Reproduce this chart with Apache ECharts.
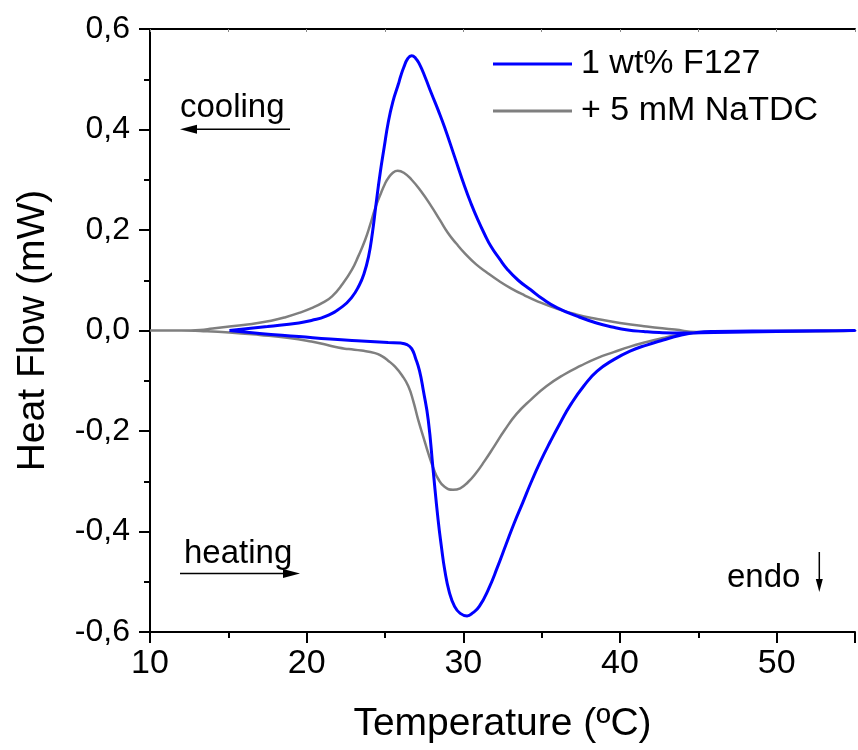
<!DOCTYPE html>
<html>
<head>
<meta charset="utf-8">
<script src="https://cdn.jsdelivr.net/npm/echarts@6/dist/echarts.min.js"></script>
<style>html,body{margin:0;padding:0;background:#fff;}#c{width:858px;height:750px;}</style>
</head>
<body>
<div id="c"></div>
<script>
// ---- data (Temperature °C, Heat Flow mW) ----
var seriesNames = ['1 wt% F127', '+ 5 mM NaTDC'];
var xTicks = [10, 20, 30, 40, 50];
var yTicks = [-0.6, -0.4, -0.2, 0.0, 0.2, 0.4, 0.6];

// 1 wt% F127 — heating branch (increasing T)
var f127HeatT  = [15.07, 17, 19.5, 21.5, 23.5, 25.2, 26.0, 26.4, 26.7, 26.95, 27.2, 27.45, 27.76, 28.07, 28.39, 28.6, 28.81, 29.1, 29.44, 29.8, 30.24, 30.6, 31.02, 31.6, 32.19, 32.7, 33.25, 33.8, 34.3, 34.9, 35.57, 36.2, 36.84, 37.7, 38.54, 39.6, 40.64, 41.7, 42.76, 43.8, 44.9, 46, 50, 55];
var f127HeatHF = [0, -0.006, -0.012, -0.017, -0.021, -0.024, -0.025, -0.028, -0.036, -0.055, -0.08, -0.12, -0.178, -0.277, -0.377, -0.43, -0.476, -0.52, -0.549, -0.563, -0.568, -0.562, -0.549, -0.515, -0.470, -0.428, -0.383, -0.342, -0.304, -0.262, -0.220, -0.183, -0.148, -0.110, -0.081, -0.058, -0.041, -0.029, -0.019, -0.01, -0.004, -0.002, -0.001, 0.0];
// 1 wt% F127 — cooling branch (decreasing T)
var f127CoolT  = [55, 50, 46, 44, 42.5, 41.5, 40.5, 39.5, 38.5, 37.3, 36.0, 35.1, 34.3, 33.5, 32.83, 32.3, 31.77, 31.35, 30.93, 30.5, 30.08, 29.45, 28.81, 28.4, 27.96, 27.55, 27.2, 26.95, 26.7, 26.45, 26.2, 26.0, 25.85, 25.5, 25.2, 24.95, 24.69, 24.41, 24.2, 23.95, 23.65, 23.32, 22.9, 22.3, 21.2, 20.3, 19.5, 17.5, 15.07];
var f127CoolHF = [0.001, -0.002, -0.004, -0.005, -0.004, -0.002, 0.001, 0.007, 0.015, 0.028, 0.045, 0.062, 0.081, 0.1, 0.121, 0.143, 0.167, 0.192, 0.22, 0.252, 0.287, 0.345, 0.404, 0.438, 0.472, 0.505, 0.53, 0.542, 0.547, 0.541, 0.524, 0.506, 0.49, 0.455, 0.413, 0.365, 0.313, 0.247, 0.195, 0.147, 0.112, 0.088, 0.067, 0.048, 0.028, 0.02, 0.015, 0.008, 0];

// + 5 mM NaTDC — heating branch
var natdcHeatT  = [10, 12, 13.2, 15.07, 17, 18.88, 20.3, 21.2, 22, 22.67, 23.5, 24.37, 24.8, 25.2, 25.64, 26.1, 26.49, 26.8, 27.12, 27.45, 27.76, 28.1, 28.39, 28.8, 29.34, 29.8, 30.29, 30.8, 31.35, 32.0, 32.62, 33.4, 34.3, 35.3, 36.41, 37.5, 38.54, 39.6, 40.64, 41.7, 42.76, 43.5, 44.3, 46, 50, 55];
var natdcHeatHF = [0, 0, -0.001, -0.004, -0.009, -0.015, -0.022, -0.028, -0.034, -0.037, -0.04, -0.045, -0.051, -0.06, -0.072, -0.09, -0.111, -0.14, -0.178, -0.212, -0.244, -0.275, -0.295, -0.311, -0.317, -0.314, -0.302, -0.284, -0.260, -0.229, -0.199, -0.166, -0.138, -0.111, -0.088, -0.070, -0.055, -0.043, -0.032, -0.023, -0.015, -0.01, -0.006, -0.003, -0.002, 0.0];
// + 5 mM NaTDC — cooling branch
var natdcCoolT  = [55, 50, 46, 44.9, 43.5, 41.7, 40, 38.54, 37.2, 36, 34.73, 33.9, 33.04, 32.3, 31.56, 30.8, 30.08, 29.55, 29.02, 28.5, 27.96, 27.3, 26.7, 26.2, 25.81, 25.5, 25.2, 25.0, 24.7, 24.37, 24.05, 23.73, 23.3, 22.89, 22.3, 21.62, 21.0, 20.35, 19.51, 18.6, 17.8, 16.5, 15.07, 14, 13.2, 12];
var natdcCoolHF = [0.001, -0.001, -0.003, -0.003, 0.002, 0.008, 0.015, 0.023, 0.032, 0.043, 0.058, 0.07, 0.084, 0.098, 0.114, 0.132, 0.154, 0.173, 0.194, 0.22, 0.247, 0.277, 0.300, 0.314, 0.318, 0.314, 0.303, 0.292, 0.27, 0.243, 0.21, 0.18, 0.148, 0.121, 0.093, 0.068, 0.055, 0.045, 0.035, 0.026, 0.02, 0.013, 0.008, 0.004, 0.001, 0];

function pairs(t, v) { return t.map(function (x, i) { return [x, v[i]]; }); }
var f127Loop = pairs(f127HeatT, f127HeatHF).concat(pairs(f127CoolT, f127CoolHF));
var natdcLoop = pairs(natdcHeatT, natdcHeatHF).concat(pairs(natdcCoolT, natdcCoolHF));

var FONT = 'Liberation Sans, Arial, sans-serif';
var chart = echarts.init(document.getElementById('c'), null, {renderer: 'canvas'});

function arrowGraphic(x1, y1, x2, y2, headLen, headHalf) {
  var dx = x2 - x1, dy = y2 - y1, L = Math.sqrt(dx*dx + dy*dy);
  var ux = dx / L, uy = dy / L;
  var bx = x2 - ux * headLen, by = y2 - uy * headLen;
  return [
    {type: 'line', shape: {x1: x1, y1: y1, x2: bx, y2: by}, style: {stroke: '#000', lineWidth: 1.5}, z: 10},
    {type: 'polygon', shape: {points: [[x2, y2], [bx - uy * headHalf, by + ux * headHalf], [bx + uy * headHalf, by - ux * headHalf]]}, style: {fill: '#000'}, z: 10}
  ];
}

var graphics = [
  {type: 'text', left: 180, top: 91, style: {text: 'cooling', font: '33px ' + FONT, fill: '#000'}, z: 10},
  {type: 'text', left: 184, top: 537, style: {text: 'heating', font: '33px ' + FONT, fill: '#000'}, z: 10},
  {type: 'text', left: 727, top: 561, style: {text: 'endo', font: '33px ' + FONT, fill: '#000'}, z: 10}
].concat(arrowGraphic(290, 129.3, 180, 129.3, 17, 4.5))
 .concat(arrowGraphic(180, 573.5, 300, 573.5, 17, 4.5))
 .concat(arrowGraphic(819.3, 552, 819.3, 592, 13, 3.5));

var option = {
  animation: false,
  backgroundColor: '#fff',
  grid: {left: 150, right: 0, top: 29, bottom: 118, containLabel: false},
  legend: {
    orient: 'vertical', left: 488, top: 42,
    icon: 'rect', itemWidth: 79, itemHeight: 3, itemGap: 13,
    textStyle: {fontFamily: FONT, fontSize: 34, color: '#000', padding: [0, 0, 0, 4]},
    data: seriesNames
  },
  xAxis: [{
    type: 'value', min: 10, max: 55, interval: 10,
    name: 'Temperature (ºC)', nameLocation: 'middle', nameGap: 73,
    nameTextStyle: {fontFamily: FONT, fontSize: 39, color: '#000'},
    axisLine: {onZero: false, lineStyle: {color: '#000', width: 2}},
    axisTick: {inside: false, length: 11, lineStyle: {color: '#000', width: 2}},
    minorTick: {show: true, splitNumber: 2, length: 6, lineStyle: {color: '#000', width: 2}},
    axisLabel: {fontFamily: FONT, fontSize: 34, color: '#000', margin: 15,
      formatter: function (v) { return xTicks.indexOf(v) >= 0 ? String(v) : ''; }},
    splitLine: {show: false}
  }, {
    type: 'value', min: 10, max: 55, interval: 5, position: 'top',
    axisLine: {onZero: false, lineStyle: {color: '#000', width: 2}},
    axisTick: {inside: true, length: 3, lineStyle: {color: '#888', width: 1}},
    axisLabel: {show: false}, splitLine: {show: false}
  }],
  yAxis: {
    type: 'value', min: -0.6, max: 0.6, interval: 0.2,
    name: 'Heat Flow (mW)', nameLocation: 'middle', nameGap: 97,
    nameTextStyle: {fontFamily: FONT, fontSize: 39, color: '#000'},
    axisLine: {onZero: false, lineStyle: {color: '#000', width: 2}},
    axisTick: {inside: false, length: 11, lineStyle: {color: '#000', width: 2}},
    minorTick: {show: true, splitNumber: 2, length: 6, lineStyle: {color: '#000', width: 2}},
    axisLabel: {fontFamily: FONT, fontSize: 32, color: '#000', margin: 20,
      formatter: function (v) {
        var r = Math.round(v * 10) / 10;
        return yTicks.indexOf(r) >= 0 ? r.toFixed(1).replace('.', ',') : '';
      }},
    splitLine: {show: false}
  },
  graphic: graphics,
  series: [{
    name: seriesNames[1], type: 'line', data: natdcLoop, symbol: 'none', smooth: 0.5,
    lineStyle: {color: '#7f7f7f', width: 2.5}, itemStyle: {color: '#7f7f7f'}, z: 2
  }, {
    name: seriesNames[0], type: 'line', data: f127Loop, symbol: 'none', smooth: 0.5,
    lineStyle: {color: '#0000ff', width: 3}, itemStyle: {color: '#0000ff'}, z: 3
  }]
};
chart.setOption(option);
</script>
</body>
</html>
